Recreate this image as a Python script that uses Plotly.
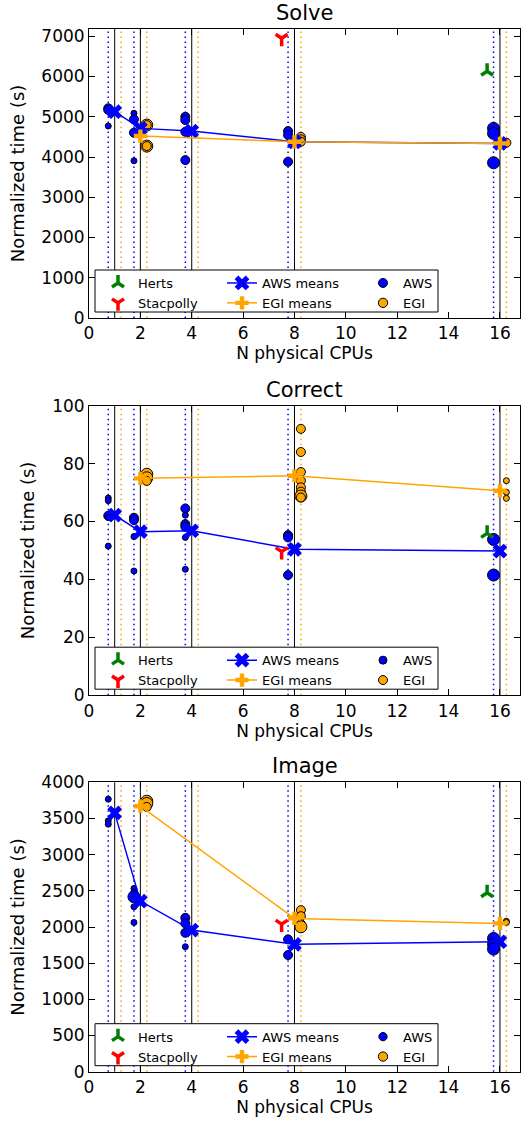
import plotly.graph_objects as go

# ---------------- data ----------------
CPUS = [1, 2, 4, 8, 16]
TITLES = ["Solve", "Correct", "Image"]

# Solve
solve_aws_cpu = [1, 1, 1, 2, 2, 2, 2, 4, 4, 4, 4, 8, 8, 8, 16, 16, 16]
solve_aws_time = [5210, 5170, 4770, 5085, 4935, 4603, 3906, 5000, 4918, 4627, 3923,
                  4644, 4545, 3881, 4711, 4587, 3856]
solve_aws_w = [2, 2, 1, 1, 2, 2, 1, 2, 2, 2, 2, 2, 2, 2, 3, 3, 3]
solve_egi_cpu = [2, 2, 2, 2, 8, 8, 8, 16, 16]
solve_egi_time = [4793, 4793, 4271, 4271, 4500, 4440, 4380, 4370, 4353]
solve_egi_w = [3, 2, 3, 2, 2, 2, 2, 1, 2]
solve_aws_mean = [5125, 4711, 4644, 4378, 4338]
solve_egi_mean = [4520, 4378, 4338]
solve_herts = [6130]
solve_stac = [6950]

# Correct
correct_aws_cpu = [1, 1, 1, 1, 1, 2, 2, 2, 2, 4, 4, 4, 4, 4, 4, 8, 8, 8, 16, 16]
correct_aws_time = [68.1, 67.2, 62.0, 61.4, 51.5, 61.3, 60.5, 54.8, 42.9,
                    64.5, 62.2, 59.1, 58.2, 54.5, 43.5, 55.3, 54.5, 41.5, 53.8, 41.5]
correct_aws_w = [1, 1, 2, 1, 1, 2, 2, 1, 1, 2, 1, 2, 2, 1, 1, 2, 2, 2, 3, 3]
correct_egi_cpu = [2, 2, 2, 8, 8, 8, 8, 8, 8, 8, 8, 16, 16, 16]
correct_egi_time = [76.3, 75.1, 74.0, 92.0, 84.0, 77.1, 74.1, 71.8, 70.3, 68.8, 68.3,
                    74.1, 70.1, 68.0]
correct_egi_w = [3, 3, 2, 2, 2, 2, 2, 2, 2, 3, 2, 1, 1, 1]
correct_aws_mean = [62.2, 56.5, 56.8, 50.4, 49.8]
correct_egi_mean = [74.9, 75.8, 70.6]
correct_herts = [55.9]
correct_stac = [49.6]

# Image
image_aws_cpu = [1, 1, 1, 2, 2, 2, 2, 2, 4, 4, 4, 4, 8, 8, 16, 16, 16]
image_aws_time = [3767, 3467, 3421, 2533, 2486, 2417, 2279, 2063, 2127, 2050, 1920, 1727,
                  1829, 1612, 1842, 1760, 1695]
image_aws_w = [1, 1, 1, 1, 1, 3, 1, 1, 2, 2, 2, 1, 2, 2, 3, 3, 3]
image_egi_cpu = [2, 2, 2, 8, 8, 8, 8, 16, 16]
image_egi_time = [3739, 3707, 3660, 2233, 2150, 2040, 2003, 2080, 2063]
image_egi_w = [3, 3, 2, 2, 2, 2, 3, 1, 1]
image_aws_mean = [3577, 2358, 1957, 1760, 1796]
image_egi_mean = [3670, 2119, 2050]
image_herts = [2473]
image_stac = [2040]

aws_mean_cpu = [1, 2, 4, 8, 16]
egi_mean_cpu = [2, 8, 16]
herts_cpu = [16]
stac_cpu = [8]

Y_TICKS = [list(range(0, 7001, 1000)), list(range(0, 101, 20)), list(range(0, 4001, 500))]
Y_RANGES = [[0, 7180], [0, 100], [0, 4000]]
X_TICKS = list(range(0, 17, 2))

PANELS = [
    dict(aws_cpu=solve_aws_cpu, aws=solve_aws_time, aws_w=solve_aws_w,
         egi_cpu=solve_egi_cpu, egi=solve_egi_time, egi_w=solve_egi_w,
         aws_mean=solve_aws_mean, egi_mean=solve_egi_mean,
         herts=solve_herts, stac=solve_stac),
    dict(aws_cpu=correct_aws_cpu, aws=correct_aws_time, aws_w=correct_aws_w,
         egi_cpu=correct_egi_cpu, egi=correct_egi_time, egi_w=correct_egi_w,
         aws_mean=correct_aws_mean, egi_mean=correct_egi_mean,
         herts=correct_herts, stac=correct_stac),
    dict(aws_cpu=image_aws_cpu, aws=image_aws_time, aws_w=image_aws_w,
         egi_cpu=image_egi_cpu, egi=image_egi_time, egi_w=image_egi_w,
         aws_mean=image_aws_mean, egi_mean=image_egi_mean,
         herts=image_herts, stac=image_stac),
]

# ---------------- style ----------------
W, H = 524, 1124
ML, MR = 89, 4
PW = W - ML - MR
FONT = "DejaVu Sans"
BLUE, ORANGE, GREEN, RED = "#0000FF", "#FFA500", "#008000", "#FF0000"
OFF_AWS, OFF_EGI, OFF_SITE = -0.25, 0.25, -0.5
# panel pixel extents (top, bottom)
PIX = [(29, 318), (405.7, 695.2), (782.3, 1071.7)]
# legend: box extents in px relative to plot left/bottom
LEG_BOX = (6, 349, 6, 48)       # x0, x1 (from plot left), y0, y1 (above plot bottom)
LEG_TOP = 50                    # top of legend item blocks above plot bottom
LEG_COLS = [9, 133, 274]        # legend left positions (px from plot left)


def wsize(w):
    return [3 + 3 * v for v in w]


fig = go.Figure()
shapes = []
annotations = []
layout_upd = {}
for i, p in enumerate(PANELS):
    n = "" if i == 0 else str(i + 1)
    xa, ya = "x" + n, "y" + n
    top, bot = PIX[i]
    lgs = ["legend" + str(3 * i + k + 1) for k in range(3)]
    lgs = ["legend" if l == "legend1" else l for l in lgs]
    # vertical reference lines
    for c in CPUS:
        for off, col, dash, lw in [(0, "black", "solid", 1), (OFF_AWS, BLUE, "1.5px,3.5px", 1.5),
                                   (OFF_EGI, ORANGE, "1.5px,3.5px", 1.5)]:
            shapes.append(dict(type="line", xref=xa, yref=ya + " domain", x0=c + off, x1=c + off,
                               y0=0, y1=1, layer="below",
                               line=dict(color=col, width=lw, dash=dash)))
    fig.add_trace(go.Scatter(
        x=[c + OFF_AWS for c in p["aws_cpu"]], y=p["aws"], mode="markers", name="AWS",
        xaxis=xa, yaxis=ya, legend=lgs[2], legendrank=1,
        marker=dict(color=BLUE, size=wsize(p["aws_w"]), opacity=1,
                    line=dict(color="black", width=1))))
    fig.add_trace(go.Scatter(
        x=[c + OFF_EGI for c in p["egi_cpu"]], y=p["egi"], mode="markers", name="EGI",
        xaxis=xa, yaxis=ya, legend=lgs[2], legendrank=2,
        marker=dict(color=ORANGE, size=wsize(p["egi_w"]), opacity=1,
                    line=dict(color="black", width=1))))
    fig.add_trace(go.Scatter(
        x=aws_mean_cpu, y=p["aws_mean"], mode="lines+markers", name="AWS means",
        xaxis=xa, yaxis=ya, legend=lgs[1], legendrank=1,
        line=dict(color=BLUE, width=1.5),
        marker=dict(symbol="x", color=BLUE, size=13, line=dict(width=0))))
    fig.add_trace(go.Scatter(
        x=egi_mean_cpu, y=p["egi_mean"], mode="lines+markers", name="EGI means",
        xaxis=xa, yaxis=ya, legend=lgs[1], legendrank=2,
        line=dict(color=ORANGE, width=1.5),
        marker=dict(symbol="cross", color=ORANGE, size=11, line=dict(width=0))))
    fig.add_trace(go.Scatter(
        x=[c + OFF_SITE for c in herts_cpu], y=p["herts"], mode="markers", name="Herts",
        xaxis=xa, yaxis=ya, legend=lgs[0], legendrank=1,
        marker=dict(symbol="y-up", size=10, color=GREEN, line=dict(color=GREEN, width=3.5))))
    fig.add_trace(go.Scatter(
        x=[c + OFF_SITE for c in stac_cpu], y=p["stac"], mode="markers", name="Stacpolly",
        xaxis=xa, yaxis=ya, legend=lgs[0], legendrank=2,
        marker=dict(symbol="y-down", size=10, color=RED, line=dict(color=RED, width=3.5))))

    dom = [1 - bot / H, 1 - top / H]
    axcommon = dict(showline=True, linecolor="black", linewidth=1, mirror="ticks",
                    ticks="inside", ticklen=6, tickcolor="black", showgrid=False,
                    zeroline=False, tickfont=dict(family=FONT, size=17, color="black"))
    layout_upd["xaxis" + n] = dict(axcommon, domain=[0, 1], range=[0, 16.78], tickvals=X_TICKS,
                                   anchor=ya,
                                   title=dict(text="N physical CPUs", standoff=1,
                                              font=dict(family=FONT, size=17, color="black")))
    layout_upd["yaxis" + n] = dict(axcommon, domain=dom, range=Y_RANGES[i], tickvals=Y_TICKS[i],
                                   anchor=xa,
                                   title=dict(text="Normalized time (s)", standoff=12,
                                              font=dict(family=FONT, size=18, color="black")))
    for k, lg in enumerate(lgs):
        layout_upd[lg] = dict(orientation="v", x=LEG_COLS[k] / PW, xanchor="left",
                              y=1 - (bot - LEG_TOP) / H, yanchor="top",
                              bgcolor="rgba(0,0,0,0)", borderwidth=0, itemwidth=30,
                              tracegroupgap=0, traceorder="normal",
                              font=dict(family=FONT, size=13, color="black"))
    shapes.append(dict(type="rect", xref="paper", yref="paper", layer="above",
                       x0=LEG_BOX[0] / PW, x1=LEG_BOX[1] / PW,
                       y0=1 - (bot - LEG_BOX[2]) / H, y1=1 - (bot - LEG_BOX[3]) / H,
                       fillcolor="white", line=dict(color="black", width=1)))
    annotations.append(dict(text=TITLES[i], xref=xa + " domain", yref=ya + " domain",
                            x=0.5, y=1, xanchor="center", yanchor="bottom", yshift=2,
                            showarrow=False, font=dict(family=FONT, size=21, color="black")))

fig.update_layout(layout_upd)
fig.update_layout(width=W, height=H, margin=dict(l=ML, r=MR, t=0, b=0, autoexpand=False),
                  paper_bgcolor="white", plot_bgcolor="white", shapes=shapes,
                  annotations=annotations, font=dict(family=FONT, color="black"))
fig.write_html("out.html", config={"displayModeBar": False},
               post_script="document.body.style.margin='0px';")
